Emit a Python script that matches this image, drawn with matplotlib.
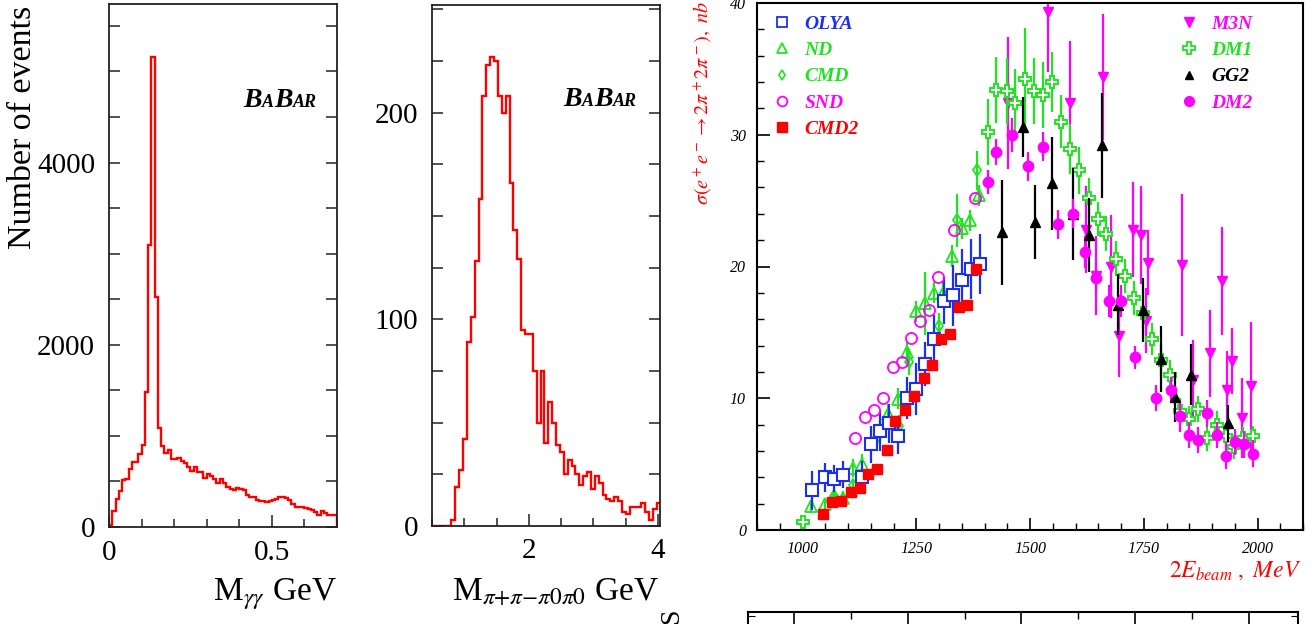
import numpy as np
import matplotlib
matplotlib.use('Agg')
import matplotlib.pyplot as plt
from matplotlib.lines import Line2D
from matplotlib.offsetbox import TextArea, HPacker, AnchoredOffsetbox
from matplotlib.ticker import MultipleLocator

plt.rcParams['font.family'] = ['Liberation Serif', 'DejaVu Serif']
plt.rcParams['mathtext.fontset'] = 'stix'

# ---- left histogram: M(gamma gamma), 0.01 GeV bins starting at 0
mgg_start, mgg_width = 0.0, 0.01
mgg_counts = [20, 172, 308, 392, 516, 531, 637, 714, 711, 802,
              905, 1478, 3092, 5162, 2522, 1088, 894, 813, 846, 747,
              747, 755, 722, 703, 663, 612, 656, 604, 604, 538,
              582, 557, 531, 484, 524, 484, 436, 418, 407, 429,
              414, 410, 355, 333, 333, 297, 289, 289, 275, 280,
              297, 304, 326, 333, 319, 300, 253, 223, 220, 220,
              209, 194, 187, 165, 136, 172, 158, 136, 136, 136]

# ---- middle histogram: M(pi+pi-pi0pi0), 0.06 GeV bins starting at 0.5
m4pi_start, m4pi_width = 0.5, 0.06
m4pi_counts = [0, 0, 0, 0, 0, 3, 19, 27, 42, 89,
               101, 128, 158, 208, 223, 227, 225, 208, 200, 208,
               166, 143, 129, 95, 93, 93, 75, 50, 75, 40,
               60, 50, 39, 36, 25, 32, 29, 25, 20, 24,
               26, 18, 24, 21, 15, 13, 12, 14, 12, 7,
               6, 9, 9, 9, 11, 7, 3, 8, 11]

# ---- right panel: cross sections (2E_beam MeV, sigma nb, error nb)
olya_x = [1020, 1050, 1070, 1090, 1130, 1150, 1170, 1190, 1210, 1230, 1250, 1270, 1290, 1310, 1330, 1350, 1370, 1390]
olya_y = [3.0, 4.0, 3.9, 4.2, 4.0, 6.5, 7.5, 8.1, 7.1, 10.0, 10.7, 12.6, 14.5, 17.4, 17.8, 19.0, 19.8, 20.2]
olya_e = [1.5, 1.1, 1.0, 1.0, 1.2, 1.4, 1.5, 1.5, 1.3, 1.6, 2.0, 1.7, 1.8, 1.8, 2.3, 2.3, 2.3, 2.3]

nd_x = [1018, 1049, 1070, 1090, 1110, 1130, 1170, 1189, 1209, 1230, 1250, 1269, 1289, 1309, 1329, 1350, 1369, 1389]
nd_y = [1.8, 1.95, 2.45, 2.45, 4.7, 5.0, 7.5, 8.8, 9.95, 13.5, 16.6, 17.2, 18.0, 18.0, 20.8, 22.9, 23.5, 25.4]
nd_e = [0.5, 0.5, 0.5, 0.5, 0.7, 0.8, 0.8, 0.8, 0.8, 0.8, 0.8, 2.4, 0.8, 0.8, 0.8, 0.8, 0.8, 0.8]

cmd_x = [1070, 1110, 1161, 1211, 1234, 1301, 1339, 1383]
cmd_y = [2.6, 3.4, 6.9, 7.9, 12.75, 15.5, 23.5, 27.3]
cmd_e = [0.5, 0.5, 0.8, 0.8, 1.0, 1.0, 2.0, 1.5]

snd_x = [1115, 1138, 1158, 1178, 1198, 1218, 1238, 1258, 1278, 1298, 1333, 1379]
snd_y = [7.0, 8.6, 9.1, 10.0, 12.4, 12.75, 14.6, 15.9, 16.7, 19.2, 22.8, 25.2]

cmd2_x = [1045, 1065, 1085, 1106, 1126, 1144, 1164, 1185, 1204, 1225, 1245, 1266, 1285, 1304, 1325, 1345, 1362, 1381]
cmd2_y = [1.2, 2.1, 2.2, 2.85, 3.2, 4.25, 4.6, 6.1, 8.3, 9.1, 10.2, 11.5, 12.5, 14.5, 14.85, 16.9, 17.1, 19.8]

m3n_x = [1452, 1540, 1588, 1622, 1646, 1660, 1677, 1696, 1727, 1745, 1755, 1760, 1833, 1859, 1896, 1923, 1932, 1945, 1965, 1986]
m3n_y = [32.4, 39.3, 32.4, 22.8, 19.3, 34.4, 20.0, 14.7, 22.8, 22.4, 15.9, 20.3, 20.1, 11.4, 13.4, 18.9, 10.6, 12.8, 8.5, 10.9]
m3n_e = [5.0, 4.5, 4.7, 3.3, 3.0, 4.8, 3.9, 3.1, 3.6, 3.7, 2.5, 2.5, 5.4, 3.0, 3.3, 4.1, 3.0, 2.5, 3.0, 4.9]

dm1_x = [1000, 1408, 1426, 1449, 1468, 1488, 1508, 1528, 1548, 1568, 1588, 1608, 1629, 1649, 1668, 1688, 1709, 1729,
         1749, 1769, 1788, 1808, 1830, 1850, 1869, 1889, 1910, 1930, 1949, 1969, 1990]
dm1_y = [0.6, 30.2, 33.4, 33.3, 32.4, 34.2, 33.3, 33.0, 34.0, 31.0, 28.9, 27.3, 25.2, 23.6, 22.5, 20.6, 19.3, 17.6,
         16.5, 14.5, 12.9, 11.8, 9.0, 8.4, 9.2, 7.0, 8.0, 7.1, 6.3, 7.0, 7.1]
dm1_e = [0.3, 2.5, 2.5, 2.5, 2.6, 3.9, 2.5, 2.5, 2.3, 2.0, 1.9, 1.8, 1.5, 1.3, 1.3, 1.3, 1.3, 1.3,
         1.2, 1.2, 1.2, 1.1, 1.0, 1.0, 1.0, 1.0, 1.0, 1.0, 0.9, 0.8, 0.8]

gg2_x = [1438, 1485, 1511, 1549, 1594, 1630, 1659, 1694, 1749, 1788, 1819, 1853, 1936]
gg2_y = [22.6, 30.6, 23.4, 26.3, 24.0, 22.4, 29.2, 17.1, 16.7, 13.0, 10.1, 11.8, 8.1]
gg2_e = [4.0, 2.3, 2.8, 3.5, 3.5, 2.8, 4.0, 2.3, 2.4, 2.5, 1.9, 2.3, 1.4]

dm2_x = [1407, 1426, 1460, 1496, 1528, 1562, 1594, 1621, 1646, 1674, 1700, 1731, 1776, 1810, 1830,
         1850, 1870, 1890, 1910, 1930, 1950, 1970, 1990]
dm2_y = [26.4, 28.7, 30.0, 27.6, 29.1, 23.2, 24.0, 21.1, 19.1, 17.4, 17.4, 13.1, 10.0, 10.65, 8.65,
         7.2, 6.85, 8.85, 7.2, 5.65, 6.7, 6.5, 5.8]
dm2_e = [0.9, 1.0, 1.3, 1.1, 1.1, 1.1, 1.1, 1.2, 1.2, 1.2, 1.2, 0.9, 1.0, 1.0, 1.2,
         1.0, 1.0, 1.0, 1.0, 1.0, 1.0, 1.0, 1.0]

BLUE = '#1c2ff0'
GREEN = '#1fe51f'
MAG = '#ff00ff'
RED = '#ff0000'

W, H = 1315, 624
fig = plt.figure(figsize=(W / 100, H / 100), dpi=100)


def px_axes(l, t, r, b):
    return fig.add_axes([l / W, (H - b) / H, (r - l) / W, (b - t) / H])


def babar(ax, x, y):
    bold = dict(family='Liberation Serif', weight='bold', style='italic', color='black')
    parts = [TextArea('B', textprops=dict(size=20, **bold)),
             TextArea('A', textprops=dict(size=13, **bold)),
             TextArea('B', textprops=dict(size=20, **bold)),
             TextArea('AR', textprops=dict(size=13, **bold))]
    box = HPacker(children=parts, align='baseline', pad=0, sep=0)
    anc = AnchoredOffsetbox(loc='center', child=box, frameon=False, pad=0, borderpad=0,
                            bbox_to_anchor=(x, y), bbox_transform=ax.transAxes)
    ax.add_artist(anc)


def hist_style(ax):
    for s in ax.spines.values():
        s.set_linewidth(1.3)
        s.set_color('#222222')
    ax.tick_params(axis='both', which='both', direction='in', labelsize=21, color='#333333')
    ax.tick_params(axis='y', which='both', left=True, right=True)
    ax.tick_params(axis='y', which='major', length=8, width=1.2, pad=10)
    ax.tick_params(axis='y', which='minor', length=8, width=1.2)
    ax.tick_params(axis='x', which='major', length=9, width=1.2, pad=9)
    ax.tick_params(axis='x', which='minor', length=6, width=1.2)


# ---- left panel
ax1 = px_axes(109, 4, 337, 527)
edges1 = mgg_start + mgg_width * np.arange(len(mgg_counts) + 1)
ax1.stairs(mgg_counts, edges1, color=RED, lw=1.7, baseline=0)
ax1.set_xlim(0, 0.7)
ax1.set_ylim(0, 5740)
ax1.xaxis.set_major_locator(MultipleLocator(0.5))
ax1.xaxis.set_minor_locator(MultipleLocator(0.1))
ax1.yaxis.set_major_locator(MultipleLocator(2000))
ax1.yaxis.set_minor_locator(MultipleLocator(500))
ax1.xaxis.set_major_formatter(plt.FuncFormatter(lambda v, p: '0' if v == 0 else f'{v:g}'))
hist_style(ax1)
babar(ax1, 0.75, 0.816)
fig.text(23 / W, 1 - 127 / H, 'Number of events', rotation=90, ha='center', va='center', fontsize=24.5)
fig.text(337 / W, (H - 601) / H, r'M$_{\gamma\gamma}$ GeV', ha='right', va='baseline', fontsize=24)

# ---- middle panel
ax2 = px_axes(432, 5, 660, 526)
edges2 = m4pi_start + m4pi_width * np.arange(len(m4pi_counts) + 1)
ax2.stairs(m4pi_counts, edges2, color=RED, lw=1.7, baseline=0)
ax2.set_xlim(0.5, 4.03)
ax2.set_ylim(0, 252)
ax2.xaxis.set_major_locator(MultipleLocator(2))
ax2.xaxis.set_minor_locator(MultipleLocator(0.5))
ax2.yaxis.set_major_locator(MultipleLocator(100))
ax2.yaxis.set_minor_locator(MultipleLocator(25))
hist_style(ax2)
babar(ax2, 0.737, 0.818)
fig.text(659 / W, (H - 601) / H, r'M$_{\pi{+}\pi{-}\pi0\pi0}$ GeV', ha='right', va='baseline', fontsize=24)
fig.text(672 / W, 16 / H, 'S', rotation=90, ha='center', va='top', fontsize=20)

# ---- right panel
ax3 = px_axes(757, 3, 1303, 530)
ax3.errorbar(dm1_x, dm1_y, yerr=dm1_e, fmt='P', ms=9, mfc='white', mec=GREEN, mew=1.4,
             ecolor=GREEN, elinewidth=1.6, capsize=0, zorder=3)
ax3.errorbar(m3n_x, m3n_y, yerr=m3n_e, fmt='v', ms=7, mfc=MAG, mec=MAG,
             ecolor=MAG, elinewidth=1.6, capsize=0, zorder=2)
ax3.errorbar(gg2_x, gg2_y, yerr=gg2_e, fmt='^', ms=7, mfc='black', mec='black',
             ecolor='black', elinewidth=1.6, capsize=0, zorder=4)
ax3.errorbar(dm2_x, dm2_y, yerr=dm2_e, fmt='o', ms=7.5, mfc=MAG, mec=MAG,
             ecolor=MAG, elinewidth=1.6, capsize=0, zorder=4)
ax3.errorbar(nd_x, nd_y, yerr=nd_e, fmt='^', ms=8, mfc='none', mec=GREEN, mew=1.3,
             ecolor=GREEN, elinewidth=1.6, capsize=0, zorder=3)
ax3.errorbar(cmd_x, cmd_y, yerr=cmd_e, fmt='d', ms=6, mfc='none', mec=GREEN, mew=1.3,
             ecolor=GREEN, elinewidth=1.6, capsize=0, zorder=3)
ax3.errorbar(olya_x, olya_y, yerr=olya_e, fmt='s', ms=8, mfc='white', mec=BLUE, mew=1.5,
             ecolor=BLUE, elinewidth=1.6, capsize=0, zorder=5)
ax3.plot(snd_x, snd_y, 'o', ms=8, mfc='none', mec=MAG, mew=1.3, zorder=5)
ax3.plot(cmd2_x, cmd2_y, 's', ms=7.5, mfc=RED, mec=RED, zorder=6)

ax3.set_xlim(900, 2100)
ax3.set_ylim(0, 40)
ax3.xaxis.set_major_locator(MultipleLocator(250))
ax3.xaxis.set_minor_locator(MultipleLocator(50))
ax3.yaxis.set_major_locator(MultipleLocator(10))
ax3.yaxis.set_minor_locator(MultipleLocator(2))
for s in ax3.spines.values():
    s.set_linewidth(1.5)
ax3.tick_params(axis='both', which='both', direction='in', labelsize=11.5)
ax3.tick_params(which='major', length=9, width=1.2, pad=8)
ax3.tick_params(which='minor', length=5, width=1.0)
for lab in ax3.get_xticklabels() + ax3.get_yticklabels():
    lab.set_style('italic')

leg_font = dict(family='Liberation Serif', weight='bold', style='italic', size=14)
h_left = [Line2D([], [], ls='none', marker='s', ms=7, mfc='none', mec=BLUE, mew=1.3),
          Line2D([], [], ls='none', marker='^', ms=7, mfc='none', mec=GREEN, mew=1.3),
          Line2D([], [], ls='none', marker='d', ms=5, mfc='none', mec=GREEN, mew=1.2),
          Line2D([], [], ls='none', marker='o', ms=7, mfc='none', mec=MAG, mew=1.3),
          Line2D([], [], ls='none', marker='s', ms=7, mfc=RED, mec=RED)]
leg1 = ax3.legend(h_left, ['OLYA', 'ND', 'CMD', 'SND', 'CMD2'], loc='upper left',
                  bbox_to_anchor=(0.01, 0.992), frameon=False, prop=leg_font, handlelength=1.2,
                  handletextpad=0.55, labelspacing=0.45, borderaxespad=0,
                  labelcolor=[BLUE, GREEN, GREEN, MAG, RED])
ax3.add_artist(leg1)
h_right = [Line2D([], [], ls='none', marker='v', ms=7, mfc=MAG, mec=MAG),
           Line2D([], [], ls='none', marker='P', ms=8, mfc='white', mec=GREEN, mew=1.3),
           Line2D([], [], ls='none', marker='^', ms=6, mfc='black', mec='black'),
           Line2D([], [], ls='none', marker='o', ms=7, mfc=MAG, mec=MAG)]
ax3.legend(h_right, ['M3N', 'DM1', 'GG2', 'DM2'], loc='upper left',
           bbox_to_anchor=(0.755, 0.992), frameon=False, prop=leg_font, handlelength=1.2,
           handletextpad=0.55, labelspacing=0.45, borderaxespad=0,
           labelcolor=[MAG, GREEN, 'black', MAG])

fig.text(703 / W, 1 - 1 / H, r'$\sigma(e^+e^-\rightarrow 2\pi^+2\pi^-),\ nb$', rotation=90,
         ha='center', va='top', color=RED, fontsize=14.5)
fig.text(1301 / W, (H - 577) / H, r'$2E_{beam}\ ,\ MeV$', ha='right', va='baseline',
         color=RED, fontsize=17)

# ---- cropped strip of the next panel at the bottom
ax4 = fig.add_axes([748 / W, -0.2, 550 / W, 0.2 + 12 / H])
ax4.set_xlim(899, 2108)
ax4.set_ylim(0, 1)
ax4.set_xticks([1000, 1250, 1500, 1750, 2000])
ax4.set_xticks([1125, 1375, 1625, 1875], minor=True)
ax4.set_yticks([0.97])
for s in ax4.spines.values():
    s.set_linewidth(1.5)
ax4.tick_params(axis='x', which='both', direction='in', top=True, bottom=False,
                labeltop=False, labelbottom=False)
ax4.tick_params(axis='x', which='major', length=10, width=1.2)
ax4.tick_params(axis='x', which='minor', length=5, width=1.0)
ax4.tick_params(axis='y', direction='in', left=True, right=True, labelleft=False, length=5)

fig.savefig('out.png', dpi=100)
